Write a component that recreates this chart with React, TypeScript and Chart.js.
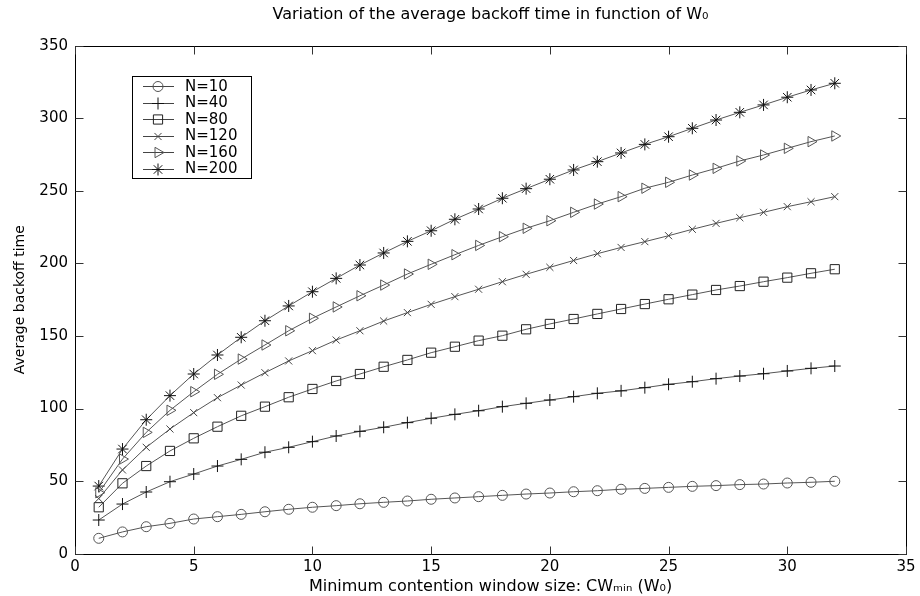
import React, { useEffect, useRef } from "react";
import { Chart, registerables } from "chart.js";

Chart.register(...registerables);

const W_VALUES = [1, 2, 3, 4, 5, 6, 7, 8, 9, 10, 11, 12, 13, 14, 15, 16, 17, 18, 19, 20, 21, 22, 23, 24, 25, 26, 27, 28, 29, 30, 31, 32];

const N10 = [10.6, 15, 18.6, 20.9, 23.9, 25.5, 27.1, 28.9, 30.6, 32, 33.1, 34.4, 35.4, 36.3, 37.5, 38.4, 39.3, 40.2, 41.1, 41.8, 42.7, 43.4, 44.4, 45, 45.7, 46.4, 46.9, 47.6, 48, 48.7, 49.2, 49.9];
const N40 = [23.2, 34.2, 42.5, 49.6, 54.9, 60.4, 65, 69.9, 73.3, 77.2, 81.1, 84.3, 87.1, 90.3, 93.3, 96, 98.5, 101.3, 103.6, 105.9, 108.2, 110.5, 112.2, 114.4, 116.7, 118.5, 120.6, 122.4, 124, 125.9, 127.7, 129.3];
const N80 = [32, 48.5, 60.4, 70.8, 79.5, 87.5, 95, 101.3, 107.8, 113.5, 119, 123.8, 128.8, 133.5, 138.5, 142.6, 146.8, 150.2, 154.6, 158.3, 161.7, 165.2, 168.6, 172, 175.3, 178.5, 181.7, 184.4, 187.4, 190.2, 193.2, 196];
const N120 = [38, 57.7, 73.3, 85.9, 97.2, 107.5, 116.2, 124.7, 132.8, 139.9, 147.2, 153.6, 160.3, 166.1, 171.8, 177.1, 182.2, 187.4, 192.5, 197.3, 202, 206.7, 211, 215, 219.1, 223.5, 227.6, 231.5, 235.2, 239.1, 242.5, 246];
const N160 = [42, 65.2, 83.6, 98.8, 111.6, 123.6, 134.1, 143.8, 153.6, 162.2, 170, 177.7, 185.1, 192.7, 199.4, 206, 212.4, 218.4, 224.2, 229.4, 235.2, 240.9, 246, 251.8, 255.9, 260.9, 265.5, 270.6, 274.7, 279.3, 283.9, 287.8];
const N200 = [46.6, 72.1, 92.3, 108.9, 123.8, 136.9, 149.1, 160.5, 170.7, 180.5, 189.7, 198.9, 207.2, 215.2, 222.5, 230.4, 237.5, 244.9, 251.5, 258, 264.4, 270.1, 276.1, 282, 287.3, 293.1, 298.8, 304.1, 309.2, 314.5, 319.5, 324.1];

const SERIES_LABELS = ["N=10", "N=40", "N=80", "N=120", "N=160", "N=200"];
const SERIES_VALUES = [N10, N40, N80, N120, N160, N200];
const MARKERS = ["circle", "cross", "rect", "crossRot", "triangle", "star"];
const MARKER_RADII = [5, 6, 6.5, 5, 6, 6];
const MARKER_COLORS = ["#555", "#111", "#222", "#444", "#555", "#111"];

const X_TICKS = [0, 5, 10, 15, 20, 25, 30, 35];
const Y_TICKS = [0, 50, 100, 150, 200, 250, 300, 350];

const TITLE = "Variation of the average backoff time in function of W\u2080";
const X_TITLE = "Minimum contention window size: CW\u2098\u1d62\u2099 (W\u2080)";
const Y_TITLE = "Average backoff time";

const FONT = "'DejaVu Sans', 'Liberation Sans', sans-serif";

function drawMarker(ctx: CanvasRenderingContext2D, style: string, x: number, y: number, r: number) {
  ctx.beginPath();
  if (style === "circle") {
    ctx.arc(x, y, r, 0, Math.PI * 2);
  } else if (style === "cross") {
    ctx.moveTo(x - r, y); ctx.lineTo(x + r, y);
    ctx.moveTo(x, y - r); ctx.lineTo(x, y + r);
  } else if (style === "rect") {
    const s = r * Math.SQRT1_2;
    ctx.rect(x - s, y - s, 2 * s, 2 * s);
  } else if (style === "crossRot") {
    const s = r * Math.SQRT1_2;
    ctx.moveTo(x - s, y - s); ctx.lineTo(x + s, y + s);
    ctx.moveTo(x - s, y + s); ctx.lineTo(x + s, y - s);
  } else if (style === "triangle") {
    ctx.moveTo(x + r, y);
    ctx.lineTo(x - r * 0.5, y - r * 0.866);
    ctx.lineTo(x - r * 0.5, y + r * 0.866);
    ctx.closePath();
  } else if (style === "star") {
    const s = r * Math.SQRT1_2;
    ctx.moveTo(x - r, y); ctx.lineTo(x + r, y);
    ctx.moveTo(x, y - r); ctx.lineTo(x, y + r);
    ctx.moveTo(x - s, y - s); ctx.lineTo(x + s, y + s);
    ctx.moveTo(x - s, y + s); ctx.lineTo(x + s, y - s);
  }
  ctx.stroke();
}

const framePlugin = {
  id: "matlabFrame",
  afterDraw(chart: any) {
    const { ctx, chartArea: ca, scales } = chart;
    const xs = scales.x;
    const ys = scales.y;
    ctx.save();
    ctx.strokeStyle = "#000";
    ctx.lineWidth = 1;
    const L = Math.round(ca.left) + 0.5;
    const R = Math.round(ca.right) + 0.5;
    const T = Math.round(ca.top) + 0.5;
    const B = Math.round(ca.bottom) + 0.5;
    ctx.strokeRect(L, T, R - L, B - T);
    const tl = 8;
    ctx.strokeStyle = "#333";
    ctx.beginPath();
    X_TICKS.forEach((v) => {
      const px = Math.round(xs.getPixelForValue(v)) + 0.5;
      ctx.moveTo(px, B); ctx.lineTo(px, B - tl);
      ctx.moveTo(px, T); ctx.lineTo(px, T + tl);
    });
    Y_TICKS.forEach((v) => {
      const py = Math.round(ys.getPixelForValue(v)) + 0.5;
      ctx.moveTo(L, py); ctx.lineTo(L + tl, py);
      ctx.moveTo(R, py); ctx.lineTo(R - tl, py);
    });
    ctx.stroke();

    // legend box
    const bx = 132.5, by = 76.5, bw = 119, bh = 102;
    ctx.fillStyle = "#fff";
    ctx.fillRect(bx, by, bw, bh);
    ctx.strokeStyle = "#000";
    ctx.strokeRect(bx, by, bw, bh);
    ctx.font = `15px ${FONT}`;
    ctx.textBaseline = "middle";
    ctx.textAlign = "left";
    SERIES_LABELS.forEach((lab, i) => {
      const cy = 86 + i * 16.5;
      ctx.strokeStyle = "#444";
      ctx.lineWidth = 1;
      ctx.beginPath();
      ctx.moveTo(143, Math.round(cy) + 0.5);
      ctx.lineTo(174, Math.round(cy) + 0.5);
      ctx.stroke();
      ctx.strokeStyle = MARKER_COLORS[i];
      drawMarker(ctx, MARKERS[i], 158, Math.round(cy) + 0.5, MARKER_RADII[i]);
      ctx.fillStyle = "#000";
      ctx.fillText(lab, 185, cy + 1);
    });
    ctx.restore();
  },
};

export default function App() {
  const ref = useRef<HTMLCanvasElement | null>(null);
  useEffect(() => {
    if (!ref.current) return;
    const datasets = SERIES_VALUES.map((vals, i) => ({
      label: SERIES_LABELS[i],
      data: W_VALUES.map((w, j) => ({ x: w, y: vals[j] })),
      borderColor: "#555",
      borderWidth: 1,
      pointStyle: MARKERS[i] as any,
      pointRadius: MARKER_RADII[i],
      pointRotation: MARKERS[i] === "triangle" ? 90 : 0,
      pointBorderColor: MARKER_COLORS[i],
      pointBackgroundColor: "rgba(0,0,0,0)",
      pointBorderWidth: 1,
      fill: false,
      tension: 0,
    }));
    const chart = new Chart(ref.current, {
      type: "line",
      data: { datasets },
      options: {
        animation: false,
        responsive: false,
        maintainAspectRatio: false,
        layout: { padding: { top: 0, left: 0, right: 14, bottom: 0 } },
        plugins: {
          legend: { display: false },
          tooltip: { enabled: false },
          title: {
            display: true,
            fullSize: false,
            text: TITLE,
            color: "#000",
            font: { family: FONT, size: 16, weight: "normal" },
            padding: { top: 5.4, bottom: 21.1 },
          },
        },
        scales: {
          x: {
            type: "linear",
            min: 0,
            max: 35,
            afterBuildTicks: (s: any) => { s.ticks = X_TICKS.map((v) => ({ value: v })); },
            ticks: { color: "#000", font: { family: FONT, size: 15 }, padding: 4, maxRotation: 0 },
            grid: { display: false, drawTicks: false },
            border: { display: false },
            title: {
              display: true,
              text: X_TITLE,
              color: "#000",
              font: { family: FONT, size: 16 },
              padding: { top: 11.4, bottom: 0 },
            },
            afterFit: (s: any) => { s.height = 42.3; },
          },
          y: {
            type: "linear",
            min: 0,
            max: 350,
            afterBuildTicks: (s: any) => { s.ticks = Y_TICKS.map((v) => ({ value: v })); },
            ticks: { color: "#000", font: { family: FONT, size: 15 }, padding: 7 },
            grid: { display: false, drawTicks: false },
            border: { display: false },
            title: {
              display: true,
              text: Y_TITLE,
              color: "#000",
              font: { family: FONT, size: 14 },
              padding: { top: 11.6, bottom: 0 },
            },
            afterFit: (s: any) => { s.width = 75; },
          },
        },
      },
      plugins: [framePlugin],
    });
    return () => chart.destroy();
  }, []);
  return (
    <div style={{ position: "absolute", left: 0, top: 0, width: 920, height: 596, background: "#fff" }}>
      <canvas ref={ref} width={920} height={596} style={{ display: "block" }} />
    </div>
  );
}
